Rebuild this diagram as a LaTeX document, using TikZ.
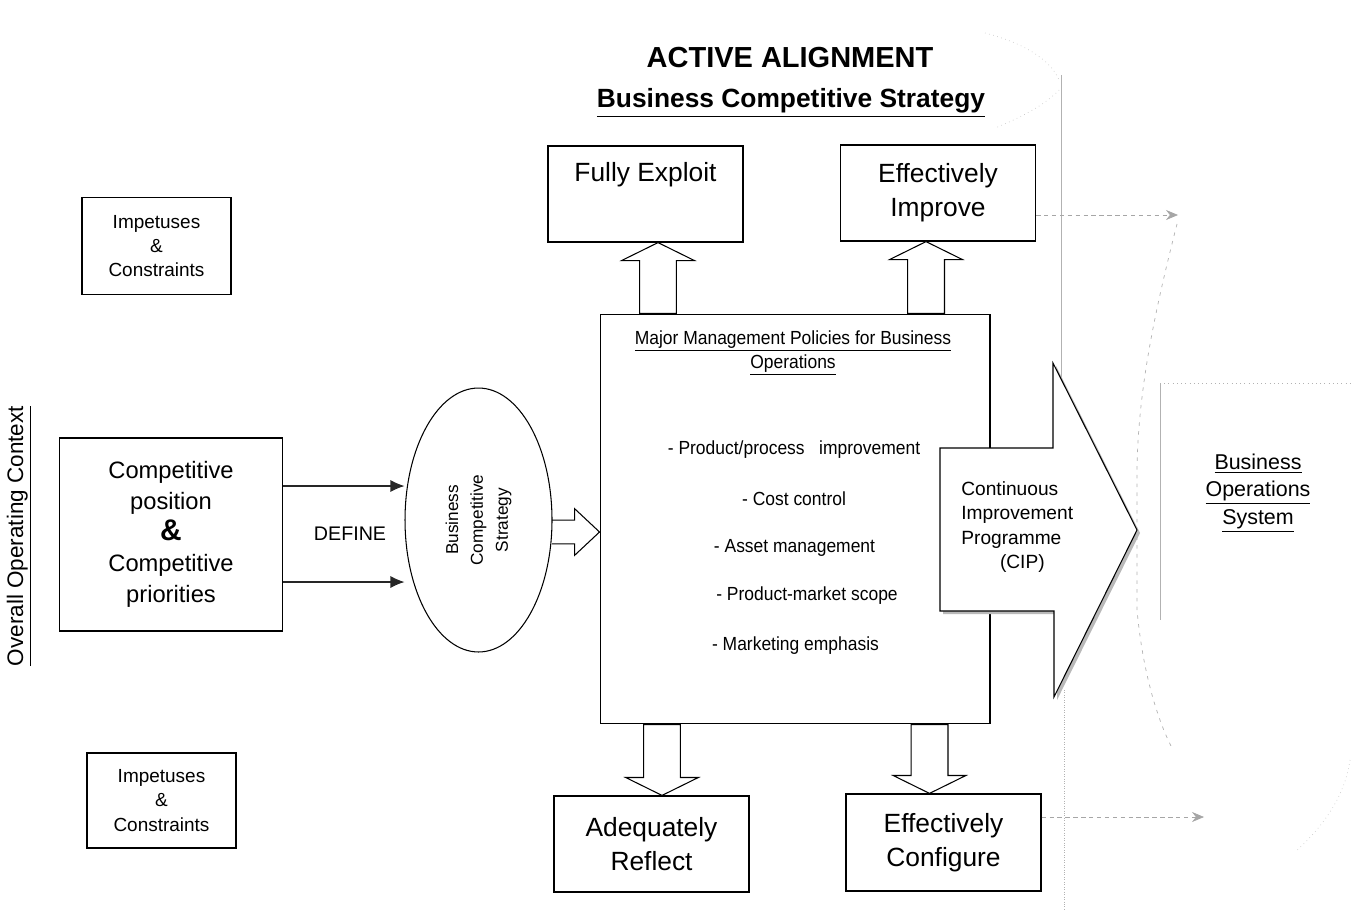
\documentclass[tikz,border=0pt]{standalone}
\usepackage{fontspec}
\setmainfont{Liberation Sans}
\newfontfamily\narrowfont{Liberation Sans}[FakeStretch=0.92]
\usepackage{tikz}
\usetikzlibrary{arrows.meta, positioning, shapes.geometric, calc}

\tikzset{
  actionbox/.style={draw, line width=0.7pt, minimum width=3.9cm, minimum height=1.92cm,
                    inner sep=0pt, align=center, font=\fontsize{15}{19.4}\selectfont},
  smallbox/.style={draw, line width=0.6pt, minimum width=2.98cm, minimum height=1.92cm,
                   inner sep=0pt, align=center, font=\fontsize{10.8}{13.7}\selectfont},
  blockarrow/.style={draw, line width=0.6pt, fill=white},
  definearrow/.style={-{Latex[length=2.8mm, width=2.4mm]}, line width=0.6pt, black!85},
  faintline/.style={gray!60, line width=0.4pt},
  faintarrow/.style={gray!70, line width=0.4pt, dash pattern=on 2.5pt off 2pt,
                     -{Stealth[length=2.4mm, width=2mm]}},
  listitem/.style={font=\narrowfont\fontsize{10.8}{13}\selectfont, inner sep=0pt},
}

% vertical hollow arrow from #1 (base) to #2 (tip)
\newcommand{\vblockarrow}[2]{%
  \draw[blockarrow] let \p1=#1, \p2=#2, \n1={sign(\y2-\y1)} in
    (\x1-10.5pt,\y1) -- (\x1-10.5pt,\y2-\n1*10.2pt) -- (\x1-20.7pt,\y2-\n1*10.2pt)
    -- (\x1,\y2) -- (\x1+20.7pt,\y2-\n1*10.2pt) -- (\x1+10.5pt,\y2-\n1*10.2pt)
    -- (\x1+10.5pt,\y1) -- cycle;}

\begin{document}
\begin{tikzpicture}[x=0.02cm, y=-0.02cm]
\useasboundingbox (0,0) rectangle (1354,909);

% --- titles ---
\node[font=\bfseries\fontsize{16.5}{18}\selectfont] (title) at (790,58) {ACTIVE ALIGNMENT};
\node[font=\bfseries\fontsize{15}{18}\selectfont] (subtitle) at (791,103) {\underline{Business Competitive Strategy}};

% --- context on the left ---
\node[rotate=90, font=\fontsize{12.8}{15}\selectfont] (context) at (19,536) {\underline{Overall Operating Context}};
\node[smallbox, minimum height=1.94cm] (imp1) at (156.5,246) {Impetuses\\\&\\Constraints};
\node[smallbox, minimum height=1.9cm] (imp2) at (161.5,800.5) {Impetuses\\\&\\Constraints};
\node[draw, line width=0.6pt, minimum width=4.46cm, minimum height=3.86cm, align=center,
      font=\fontsize{13.5}{17.6}\selectfont] (compbox) at (171,534.5)
      {Competitive\\position\\{\bfseries\fontsize{17}{17}\selectfont\&}\\Competitive\\priorities};

% --- strategy ellipse ---
\node[draw, ellipse, rotate=90, line width=0.6pt, minimum width=5.28cm, minimum height=2.94cm,
      inner sep=0pt, align=center, font=\fontsize{9.8}{14.2}\selectfont] (strategy) at (478.5,520)
      {Business\\Competitive\\Strategy};
\coordinate (def1) at ($(compbox.east)+(0,-48.5)$);
\coordinate (def2) at ($(compbox.east)+(0,47.5)$);
\draw[definearrow] (def1) -- (def1 -| strategy.north);
\draw[definearrow] (def2) -- (def2 -| strategy.north);
\node[font=\fontsize{11.2}{13}\selectfont] (define) at (350,534) {DEFINE};

% --- policies box ---
\node[draw, line width=0.6pt, minimum width=7.8cm, minimum height=8.2cm, inner sep=0pt] (policies) at (795,519) {};
\node[listitem, align=center, font=\narrowfont\fontsize{10.8}{13.6}\selectfont] (poltitle) at (793,353)
      {\underline{Major Management Policies for Business}\\\underline{Operations}};
\node[listitem] (item1) at (794,450) {- Product/process\ \ \ improvement};
\node[listitem] (item2) at (794,499) {- Cost control};
\node[listitem] (item3) at (794.5,548) {- Asset management};
\node[listitem] (item4) at (807,596) {- Product-market scope};
\node[listitem] (item5) at (795.5,646) {- Marketing emphasis};

% strategy feeds the policies
\coordinate (sa) at ($(strategy.center)+(73.5,12)$);
\draw[line width=0.6pt] let \p1=(sa), \p2=(sa -| policies.west) in
    (\x1,\y1+6.8pt) -- (\x2-14.2pt,\y1+6.8pt) -- (\x2-14.2pt,\y1+13.3pt) -- (\x2,\y1)
    -- (\x2-14.2pt,\y1-13.3pt) -- (\x2-14.2pt,\y1-6.8pt) -- (\x1,\y1-6.8pt);

% --- four outcome boxes ---
\node[actionbox] (exploit) at (645.5,194) {Fully Exploit\\[0pt]\strut};
\node[actionbox] (improve) at (938,193) {Effectively\\Improve};
\node[actionbox] (reflect) at (651.5,844) {Adequately\\Reflect};
\node[actionbox, minimum height=1.94cm] (configure) at (943.5,842.5) {Effectively\\Configure};

\coordinate (up1) at ($(policies.north west)+(58.5,0)$);
\coordinate (up2) at ($(policies.north west)+(326.5,0)$);
\coordinate (dn1) at ($(policies.south west)+(62.5,0)$);
\coordinate (dn2) at ($(policies.south west)+(330,0)$);
\vblockarrow{(up1)}{(up1 |- exploit.south)}
\vblockarrow{(up2)}{(up2 |- improve.south)}
\vblockarrow{(dn1)}{(dn1 |- reflect.north)}
\vblockarrow{(dn2)}{(dn2 |- configure.north)}

% --- faint boundary on the right ---
\draw[faintline] (1061,75) -- (1061,450);
\draw[faintline, densely dotted] (1064,690) -- (1064,909);
\draw[faintline] (1160,383) -- (1160,620);
\draw[faintline, dotted] (1160,383) -- (1354,383);
\draw[faintline, dash pattern=on 2pt off 3pt] (1177,224) .. controls (1155,310) and (1138,390) .. (1137,470)
      -- (1137,610) .. controls (1142,665) and (1155,715) .. (1172,748);
\draw[faintline, gray!40, dotted] (985,33) .. controls (1020,42) and (1050,58) .. (1059,80);
\draw[faintline, gray!40, dotted] (1059,90) .. controls (1045,105) and (1020,118) .. (995,128);
\draw[faintline, gray!40, dotted] (1350,760) .. controls (1345,795) and (1325,825) .. (1295,852);

\coordinate (bos-top) at (1178,215);
\coordinate (bos-bot) at (1204,817);
\draw[faintarrow] (improve.east |- bos-top) -- (bos-top);
\draw[faintarrow] (configure.east |- bos-bot) -- (bos-bot);

% --- CIP arrow (with shadow) ---
\fill[gray!55] (943,451) -- (1056,451) -- (1056,366) -- (1140,533) -- (1057,700) -- (1057,614) -- (943,614) -- cycle;
\draw[line width=0.6pt, fill=white] (940,448) -- (1053,448) -- (1053,363) -- (1137,530)
      -- (1054,697) -- (1054,611) -- (940,611) -- cycle;
\node[anchor=west, align=left, inner sep=0pt, font=\fontsize{10.9}{13.9}\selectfont] (cip) at (961,527)
      {Continuous\\Improvement\\Programme\\\hspace{22pt}(CIP)};

% --- target system ---
\node[align=center, font=\fontsize{12.2}{15.6}\selectfont] (bos) at (1258,493)
      {\underline{Business}\\\underline{Operations}\\\underline{System}};

\end{tikzpicture}
\end{document}
